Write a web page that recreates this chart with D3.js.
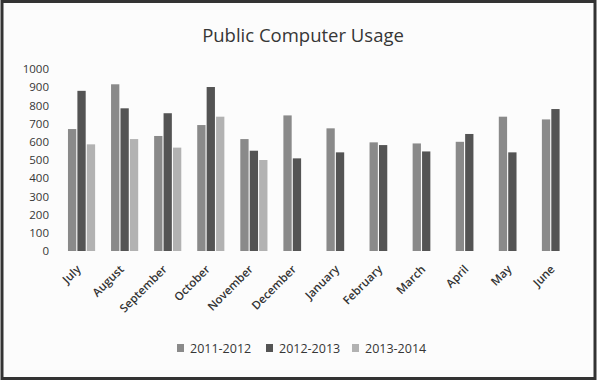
<!DOCTYPE html>
<html lang="en">
<head>
    <meta charset="UTF-8">
    <title>Public Computer Usage</title>
    <script src="https://d3js.org/d3.v7.min.js"></script>
    <style>
        body { margin: 0; background: #fff; }
        text { font-family: "Open Sans", sans-serif; fill: #363636; }
    </style>
</head>
<body>
    <svg width="598" height="381"></svg>

    <script>
        // Data
        const months = ["July", "August", "September", "October", "November", "December",
                        "January", "February", "March", "April", "May", "June"];
        const seriesNames = ["2011-2012", "2012-2013", "2013-2014"];
        const usage2011 = [670, 916, 632, 692, 615, 745, 674, 597, 591, 600, 738, 723];
        const usage2012 = [880, 784, 757, 901, 551, 509, 542, 582, 547, 643, 542, 780];
        const usage2013 = [586, 615, 568, 738, 500, null, null, null, null, null, null, null];
        const yTicks = [0, 100, 200, 300, 400, 500, 600, 700, 800, 900, 1000];
        const colors = ["#8a8a8a", "#545454", "#b2b2b2"];

        const allSeries = [usage2011, usage2012, usage2013];

        const svg = d3.select("svg");
        const width = +svg.attr("width");
        const height = +svg.attr("height");

        // Frame around the chart
        svg.append("rect")
            .attr("x", 2).attr("y", 1.5)
            .attr("width", width - 5).attr("height", height - 4)
            .attr("fill", "#fcfcfc")
            .attr("stroke", "#333")
            .attr("stroke-width", 3);

        // Title
        svg.append("text")
            .attr("x", 303)
            .attr("y", 42)
            .attr("text-anchor", "middle")
            .style("font-size", "18.5px")
            .text("Public Computer Usage");

        // Scales
        const x = d3.scaleBand().domain(months).range([60, 577]).paddingInner(0.37).paddingOuter(0.185);
        const xInner = d3.scaleBand().domain(seriesNames).range([0, x.bandwidth()]).paddingInner(0.12);
        const y = d3.scaleLinear().domain([0, 1000]).range([251, 69]);

        // Y axis labels (no line, no ticks)
        const yAxis = svg.append("g")
            .attr("transform", "translate(49,0)")
            .call(d3.axisLeft(y).tickValues(yTicks).tickFormat(d3.format("d")).tickSize(0).tickPadding(0));
        yAxis.select(".domain").remove();
        yAxis.selectAll("text").style("font-size", "11.5px").style("fill", "#363636");

        // Bars
        const groups = svg.append("g").selectAll("g")
            .data(months)
            .join("g")
            .attr("transform", d => `translate(${x(d)},0)`);

        groups.selectAll("rect")
            .data((m, i) => seriesNames.map((s, k) => ({ s, k, v: allSeries[k][i] })).filter(d => d.v !== null))
            .join("rect")
            .attr("x", d => xInner(d.s))
            .attr("y", d => y(d.v))
            .attr("width", xInner.bandwidth())
            .attr("height", d => y(0) - y(d.v))
            .attr("fill", d => colors[d.k]);

        // Month labels, rotated
        svg.append("g").selectAll("text")
            .data(months)
            .join("text")
            .attr("transform", d => `translate(${x(d) + x.bandwidth() / 2},270) rotate(-45)`)
            .attr("text-anchor", "end")
            .style("font-size", "11.5px")
            .style("font-weight", 600)
            .style("fill", "#333")
            .text(d => d);

        // Legend
        const legendX = [177, 266, 352];
        const legend = svg.append("g").selectAll("g")
            .data(seriesNames)
            .join("g")
            .attr("transform", (d, i) => `translate(${legendX[i]},344)`);

        legend.append("rect")
            .attr("width", 7).attr("height", 8)
            .attr("fill", (d, i) => colors[i]);

        legend.append("text")
            .attr("x", 13)
            .attr("y", 9)
            .style("font-size", "12.5px")
            .text(d => d);
    </script>
</body>
</html>
